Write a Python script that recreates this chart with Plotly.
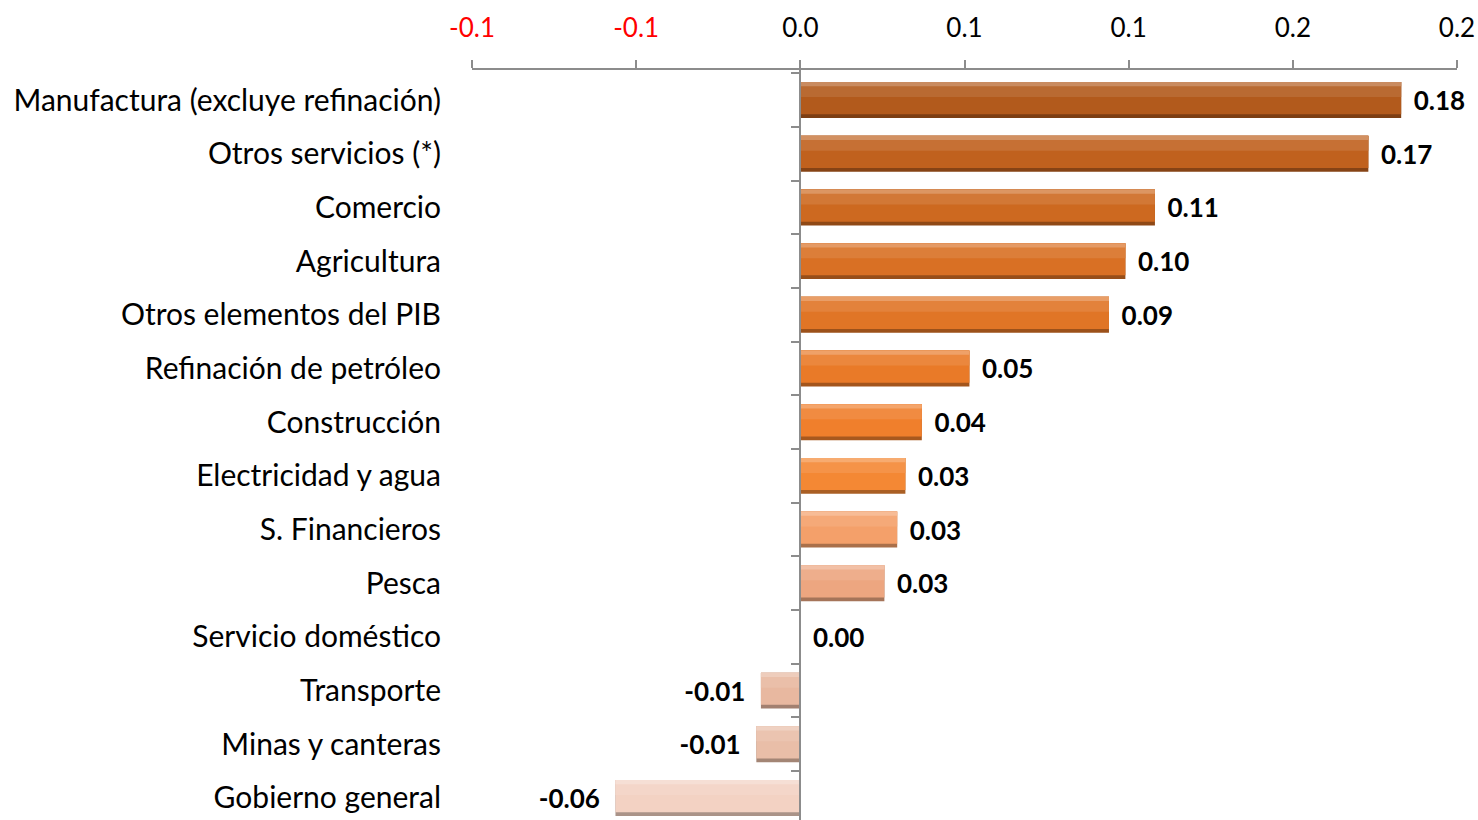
import plotly.graph_objects as go

# Data (top to bottom as shown)
categories = [
    "Manufactura (excluye refinación)",
    "Otros servicios (*)",
    "Comercio",
    "Agricultura",
    "Otros elementos del PIB",
    "Refinación de petróleo",
    "Construcción",
    "Electricidad y agua",
    "S. Financieros",
    "Pesca",
    "Servicio doméstico",
    "Transporte",
    "Minas y canteras",
    "Gobierno general",
]
values = [0.183, 0.173, 0.108, 0.099, 0.094, 0.0515, 0.037, 0.032, 0.0295, 0.0256, 0.0, -0.012, -0.0134, -0.0563]
tick_values = [-0.10, -0.05, 0.0, 0.05, 0.10, 0.15, 0.20]
tick_labels = ["-0.1", "-0.1", "0.0", "0.1", "0.1", "0.2", "0.2"]

bar_colors = ["#b25a1c", "#c0611e", "#cd6920", "#d97024", "#e07526", "#e97a28", "#f07f2c",
              "#f48834", "#f4a06a", "#eda680", "#ebb49a", "#e8b8a0", "#e9bea8", "#f3d2c3"]


def shade(hexc, f):
    h = hexc.lstrip("#")
    r, g, b = int(h[0:2], 16), int(h[2:4], 16), int(h[4:6], 16)
    if f < 0:
        r, g, b = [int(c * (1 + f)) for c in (r, g, b)]
    else:
        r, g, b = [int(c + (255 - c) * f) for c in (r, g, b)]
    return f"rgb({r},{g},{b})"


# plot bottom-to-top so positive offsets go up
cats = categories[::-1]
vals = values[::-1]
cols = bar_colors[::-1]

NB = "\u00a0"
TS = "\u2009"
texts = [(NB + TS + f"{v:.2f}") if v >= 0 else (f"{v:.2f}" + NB + NB) for v in vals]

FONT = "Lato"

fig = go.Figure()
# base (dark edge) layer with labels
fig.add_trace(go.Bar(
    y=cats, x=vals, orientation="h", width=0.67, offset=-0.335,
    marker=dict(color=[shade(c, -0.3) for c in cols], line=dict(width=0)),
    text=texts, textposition="outside", cliponaxis=False,
    textfont=dict(family=FONT, size=26, color="black", weight="bold"),
    hoverinfo="skip", showlegend=False,
))
# main body
fig.add_trace(go.Bar(
    y=cats, x=vals, orientation="h", width=0.60, offset=-0.265,
    marker=dict(color=cols, line=dict(width=0)),
    hoverinfo="skip", showlegend=False,
))
# lighter upper half
fig.add_trace(go.Bar(
    y=cats, x=vals, orientation="h", width=0.28, offset=0.055,
    marker=dict(color=[shade(c, 0.1) for c in cols], line=dict(width=0)),
    hoverinfo="skip", showlegend=False,
))
# top highlight
fig.add_trace(go.Bar(
    y=cats, x=vals, orientation="h", width=0.08, offset=0.255,
    marker=dict(color=[shade(c, 0.3) for c in cols], line=dict(width=0)),
    hoverinfo="skip", showlegend=False,
))
# invisible trace for the zero-position category axis
fig.add_trace(go.Scatter(
    y=cats, x=[0] * len(cats), yaxis="y2", mode="markers",
    marker=dict(opacity=0), hoverinfo="skip", showlegend=False,
))

yr = [-0.41, 13.56]
fig.update_layout(
    width=1478, height=820,
    margin=dict(l=472, r=21, t=70, b=0),
    paper_bgcolor="white", plot_bgcolor="white",
    barmode="overlay",
    font=dict(family=FONT, size=26, color="black"),
    xaxis=dict(
        side="top", range=[-0.10, 0.20], tickvals=tick_values,
        ticktext=[f"<span style='color:red'>{t}</span>" if v < 0 else t for t, v in zip(tick_labels, tick_values)],
        showline=True, linecolor="#8c8c8c", linewidth=2,
        ticks="outside", ticklen=8, tickwidth=2, tickcolor="#8c8c8c",
        ticklabelstandoff=13,
        showgrid=False, zeroline=False,
        tickfont=dict(family=FONT, size=26, color="black"),
    ),
    yaxis=dict(
        type="category", categoryorder="array", categoryarray=cats, range=yr,
        showgrid=False, zeroline=False, showline=False,
        ticks="outside", ticklen=24, tickcolor="rgba(0,0,0,0)",
        tickfont=dict(family=FONT, size=30, color="black"),
    ),
    yaxis2=dict(
        type="category", categoryorder="array", categoryarray=cats, range=yr,
        overlaying="y", anchor="free", position=1 / 3,
        showline=True, linecolor="#8c8c8c", linewidth=2,
        ticks="outside", tickson="boundaries", ticklen=8, tickwidth=2, tickcolor="#8c8c8c",
        showticklabels=False, showgrid=False, zeroline=False,
    ),
)

fig.write_html("out.html", config={"displayModeBar": False},
               post_script="document.body.style.margin='0';document.body.style.overflow='hidden';")
